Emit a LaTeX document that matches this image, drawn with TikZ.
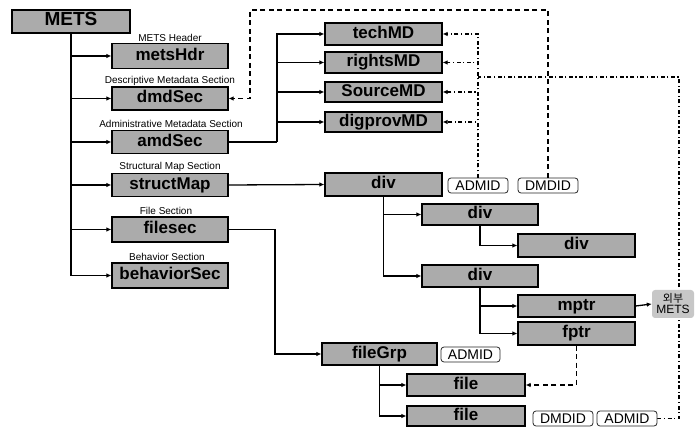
\documentclass[tikz,border=0pt]{standalone}
\usepackage{fontspec}
\setmainfont{Liberation Sans}
\newfontfamily\krfont{Noto Sans CJK KR}
\usetikzlibrary{arrows.meta,backgrounds}
\begin{document}
\begin{tikzpicture}[x=1pt,y=-1pt,
  gbox/.style={draw=black, line width=1.2pt, fill=black!33, inner sep=0pt,
    font=\bfseries\fontsize{17}{18}\selectfont, text height=12.5pt, text depth=3.5pt,
    minimum width=116pt, minimum height=23pt, anchor=center},
  idbox/.style={draw=black!85, line width=0.8pt, rounded corners=3pt, fill=white, inner sep=0pt,
    minimum width=60pt, minimum height=15pt, font=\fontsize{14}{14}\selectfont,
    text height=10pt, text depth=0pt},
  lab/.style={font=\fontsize{10}{10}\selectfont, inner sep=0pt},
  arr/.style={line width=1.3pt, -{Latex[length=5pt,width=4.5pt]}},
  ln/.style={line width=1.3pt},
  dsh/.style={line width=1.5pt, dash pattern=on 5pt off 3.5pt},
  dd/.style={line width=1.3pt, dash pattern=on 4pt off 2.5pt on 1.2pt off 2.5pt}
]
\useasboundingbox (0,0) rectangle (696,427);

% left column
\node[gbox, minimum width=118pt, font=\bfseries\fontsize{19}{20}\selectfont] (mets) at (71,21.5) {METS};
\node[gbox, minimum height=25pt] (hdr) at (170,56) {metsHdr};
\node[gbox] (dmd) at (170,98.5) {dmdSec};
\node[gbox] (amd) at (170,142) {amdSec};
\node[gbox] (smap) at (170,185) {structMap};
\node[gbox, minimum height=25pt] (fsec) at (170,229.5) {filesec};
\node[gbox, minimum height=25pt] (beh) at (170,275.5) {behaviorSec};

\node[lab] (lhdr) at (170,37.5) {METS Header};
\node[lab] (ldmd) at (170,81) {Descriptive Metadata Section};
\node[lab] (lamd) at (171,123.5) {Administrative Metadata Section};
\node[lab] (lsmap) at (170,166.5) {Structural Map Section};
\node[lab] (lfsec) at (166,211) {File Section};
\node[lab] (lbeh) at (167,256.5) {Behavior Section};

% MD boxes
\node[gbox, minimum width=117pt, minimum height=22pt] (tech) at (383.5,34) {techMD};
\node[gbox, minimum width=117pt, minimum height=21pt] (rights) at (383.5,62.5) {rightsMD};
\node[gbox, minimum width=117pt, minimum height=20pt] (source) at (383.5,92) {SourceMD};
\node[gbox, minimum width=117pt, minimum height=20pt] (digi) at (383.5,122) {digprovMD};

% struct map
\node[gbox, minimum width=117pt] (div1) at (383.5,184.5) {div};
\node[gbox, minimum height=21pt] (div2) at (480,214.5) {div};
\node[gbox, minimum width=117pt] (div3) at (576.5,245.5) {div};
\node[gbox, minimum height=22pt] (div4) at (480,276) {div};
\node[gbox, minimum width=117pt, minimum height=22pt] (mptr) at (576.5,306) {mptr};
\node[gbox, minimum width=117pt] (fptr) at (576.5,333.5) {fptr};

\node[idbox] (admA) at (478,185.5) {ADMID};
\node[idbox] (dmdA) at (548,185.5) {DMDID};

% file section
\node[gbox, minimum width=115pt, minimum height=22pt] (fgrp) at (379.5,354) {fileGrp};
\node[idbox, minimum width=59pt] (admB) at (470.5,354.5) {ADMID};
\node[gbox, minimum width=118pt, minimum height=22pt] (file1) at (466,385) {file};
\node[gbox, minimum width=118pt, minimum height=20pt] (file2) at (466,416) {file};
\node[idbox] (dmdC) at (563,418.5) {DMDID};
\node[idbox] (admC) at (627,418.5) {ADMID};

% external METS
\node[fill=black!22, rounded corners=3pt, inner sep=0pt, minimum width=42pt, minimum height=28pt,
  align=center, font=\fontsize{12}{12}\selectfont] (ext) at (673,304)
  {{\krfont\fontsize{11}{11}\selectfont 외부}\\[-1pt]METS};

% solid connectors
\draw[ln] (mets.south) -- (mets.south |- beh.west);
\foreach \t in {hdr,dmd,amd,smap,fsec,beh} \draw[arr] (mets.south) |- (\t.west);

\coordinate (amdj) at (277,142);
\draw[ln] (amd.east) -- (amdj);
\foreach \t in {tech,rights,source,digi} \draw[arr] (amdj) |- (\t.west);

\draw[arr] (smap.east) -- (div1.west);
\draw[arr] (div1.south) |- (div2.west);
\draw[arr] (div1.south) |- (div4.west);
\draw[arr] (div2.south) |- (div3.west);
\draw[arr] (div4.south) |- (mptr.west);
\draw[arr] (div4.south) |- (fptr.west);
\draw[arr] (mptr.east) -- (ext.west);

\coordinate (fj) at (275,229.5);
\draw[arr] (fsec.east) -- (fj) |- (fgrp.west);
\draw[arr] (fgrp.south) |- (file1.west);
\draw[arr] (fgrp.south) |- (file2.west);

% dashed connectors
\coordinate (dtop) at (548,10);
\coordinate (dleft) at (250,10);
\draw[dsh, -{Latex[length=5pt,width=4.5pt]}] (dmdA.north) -- (dtop) -- (dleft) |- (dmd.east);
\draw[dsh, -{Latex[length=5pt,width=4.5pt]}] (fptr.south) |- (file1.east);

% dash-dot connectors
\foreach \t in {tech,rights,source,digi}
  \draw[dd, -{Latex[length=5pt,width=4.5pt]}] (admA.north) |- (\t.east);
\coordinate (rc) at (679,77);
\coordinate (rj) at (478,77);
\begin{pgfonlayer}{background}
\draw[dd] (admC.east) -| (rc) -- (rj);
\end{pgfonlayer}
\end{tikzpicture}
\end{document}
